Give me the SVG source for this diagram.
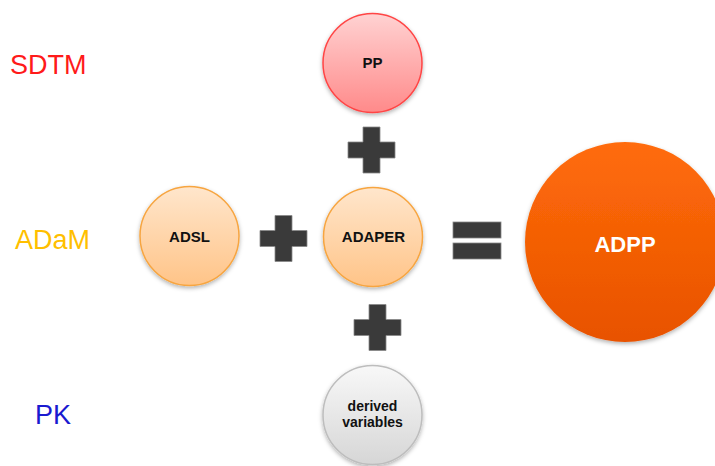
<svg xmlns="http://www.w3.org/2000/svg" width="715" height="466" viewBox="0 0 715 466">
<defs>
<linearGradient id="gPink" x1="0" y1="0" x2="0" y2="1"><stop offset="0" stop-color="#ffd2d2"/><stop offset="1" stop-color="#ff8a8a"/></linearGradient>
<linearGradient id="gPeach" x1="0" y1="0" x2="0" y2="1"><stop offset="0" stop-color="#ffe6cc"/><stop offset="1" stop-color="#ffc488"/></linearGradient>
<linearGradient id="gGray" x1="0" y1="0" x2="0" y2="1"><stop offset="0" stop-color="#f8f8f8"/><stop offset="1" stop-color="#d6d6d6"/></linearGradient>
<linearGradient id="gOrange" x1="0" y1="0" x2="0" y2="1"><stop offset="0" stop-color="#ff6c0a"/><stop offset="1" stop-color="#e85200"/></linearGradient>
<filter id="sh" x="-20%" y="-20%" width="140%" height="140%"><feDropShadow dx="0" dy="2" stdDeviation="2" flood-color="#000" flood-opacity="0.3"/></filter>
<path id="plus" d="M-8.5,-23 H8.5 V-8 H23.5 V8 H8.5 V23 H-8.5 V8 H-23.5 V-8 H-8.5 Z"/>
</defs>
<style>
.lbl{font-family:"Liberation Sans",Arial,sans-serif;font-size:27px}
.nt{font-family:"Liberation Sans",Arial,sans-serif;font-weight:bold;font-size:15px;fill:#111;text-anchor:middle}
.op{fill:#3a3a3a;stroke:#888;stroke-width:0.8}
</style>
<rect width="715" height="466" fill="#fff"/>
<text class="lbl" x="10" y="74" fill="#ff1a1a">SDTM</text>
<text class="lbl" x="15" y="249" fill="#ffbf00">ADaM</text>
<text class="lbl" x="35" y="424" fill="#1a1ad0">PK</text>
<g id="connectors">
<use href="#plus" class="op" x="371.5" y="150"/>
<use href="#plus" class="op" x="283.5" y="238.5"/>
<use href="#plus" class="op" x="377.5" y="327.5"/>
<rect class="op" x="453" y="222" width="48" height="16"/>
<rect class="op" x="453" y="243" width="48" height="16"/>
</g>
<g id="PP"><circle cx="372.5" cy="63" r="49.5" fill="url(#gPink)" stroke="#ff4545" stroke-width="1.5" filter="url(#sh)"/><text class="nt" x="372.5" y="68">PP</text></g>
<g id="ADSL"><circle cx="189.5" cy="236" r="49.5" fill="url(#gPeach)" stroke="#f7a540" stroke-width="1.5" filter="url(#sh)"/><text class="nt" x="189.5" y="242">ADSL</text></g>
<g id="ADAPER"><circle cx="373" cy="237" r="49.5" fill="url(#gPeach)" stroke="#f7a540" stroke-width="1.5" filter="url(#sh)"/><text class="nt" x="373.5" y="242">ADAPER</text></g>
<g id="derived"><circle cx="372.5" cy="415" r="49.5" fill="url(#gGray)" stroke="#bdbdbd" stroke-width="1.5" filter="url(#sh)"/><text class="nt" style="font-size:14px" x="372.5" y="411">derived</text><text class="nt" style="font-size:14px" x="372.5" y="427">variables</text></g>
<g id="ADPP"><circle cx="625" cy="242" r="100" fill="url(#gOrange)" filter="url(#sh)"/><text x="625" y="252" text-anchor="middle" font-family="Liberation Sans, Arial, sans-serif" font-weight="bold" font-size="22" fill="#fff">ADPP</text></g>
</svg>
